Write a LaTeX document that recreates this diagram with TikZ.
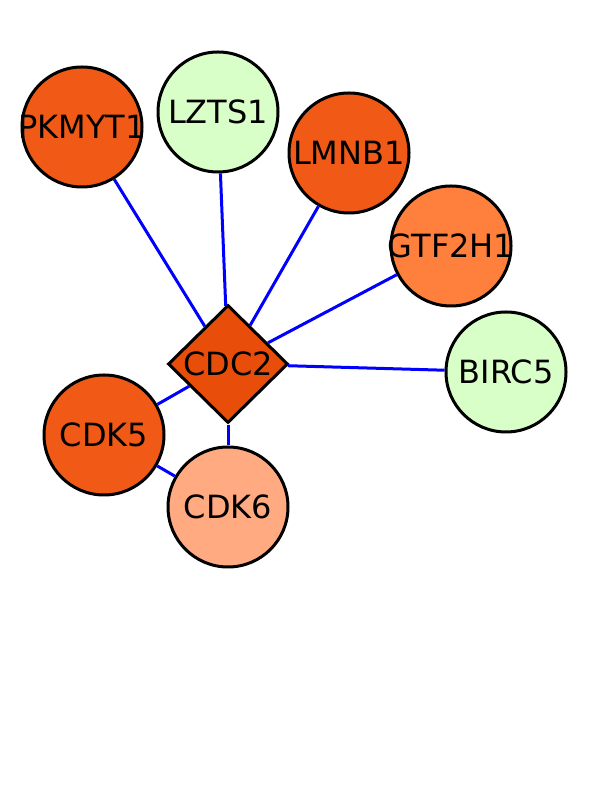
\documentclass[tikz,border=0pt]{standalone}
\usepackage{fontspec}
\setmainfont{DejaVu Sans}
\usetikzlibrary{shapes,positioning}
\definecolor{upreg}{HTML}{F05A16}
\definecolor{hubreg}{HTML}{E84E0A}
\definecolor{midreg}{HTML}{FF7F3C}
\definecolor{lowreg}{HTML}{FFAA80}
\definecolor{downreg}{HTML}{D9FFC8}
\tikzset{
  gene/.style={circle,draw=black,line width=3pt,minimum size=120pt,inner sep=0pt,
    font=\fontsize{32}{32}\selectfont},
  hub/.style={diamond,draw=black,line width=3pt,minimum width=120pt,minimum height=118pt,
    inner sep=0pt,font=\fontsize{32}{32}\selectfont},
  link/.style={blue,line width=3pt}
}
\begin{document}
\begin{tikzpicture}[x=1pt,y=1pt]
  \useasboundingbox (0,0) rectangle (612,792);
  \node[hub,fill=hubreg] (CDC2) at (228,428) {CDC2};
  \node[gene,fill=upreg] (PKMYT1) at (82,665) {\makebox[0pt]{PKMYT1}};
  \node[gene,fill=downreg] (LZTS1) at (218,680) {\makebox[0pt]{LZTS1}};
  \node[gene,fill=upreg] (LMNB1) at (349,639) {\makebox[0pt]{LMNB1}};
  \node[gene,fill=midreg] (GTF2H1) at (451,546) {\makebox[0pt]{GTF2H1}};
  \node[gene,fill=downreg] (BIRC5) at (506,420) {\makebox[0pt]{BIRC5}};
  \node[gene,fill=upreg] (CDK5) at (104,357) {\makebox[0pt]{CDK5}};
  \node[gene,fill=lowreg] (CDK6) at (228,285) {\makebox[0pt]{CDK6}};
  % interactions
  \foreach \g in {PKMYT1,LZTS1,LMNB1,GTF2H1,BIRC5,CDK5,CDK6}
    \draw[link] (CDC2) -- (\g);
  \draw[link] (CDK5) -- (CDK6);
\end{tikzpicture}
\end{document}
